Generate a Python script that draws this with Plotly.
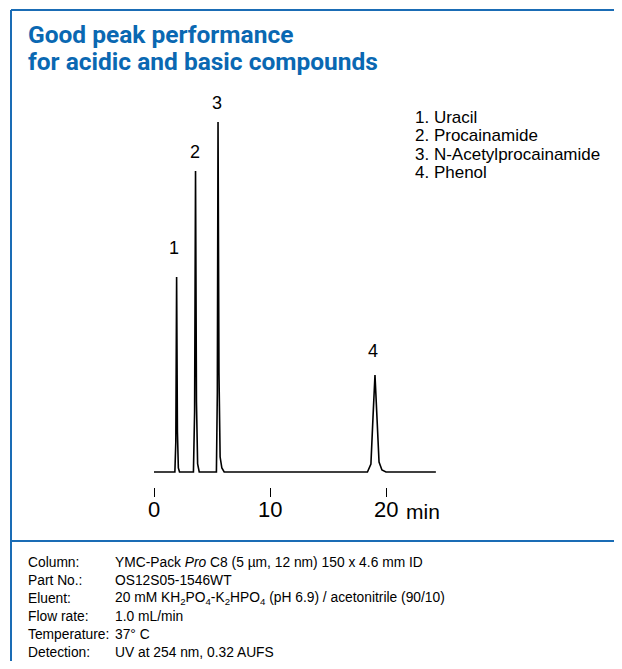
import plotly.graph_objects as go

# page has an 8px body margin: figure is drawn 8px in from top/left
OFF = 8
W, H = 622 - OFF, 669 - 2 * OFF

# ---- data ----
trace_time = [0.0, 1.80, 1.88, 1.95, 2.02, 2.10, 2.20,
              3.40, 3.50, 3.58, 3.66, 3.76, 3.90,
              5.38, 5.46, 5.52, 5.60, 5.70, 5.85, 6.05,
              18.40, 18.70, 18.88, 19.05, 19.22, 19.40, 19.65, 20.0, 24.3]
trace_signal = [0, 0, 30, 195, 40, 4, 0,
                0, 60, 301, 70, 8, 0,
                0, 80, 350, 100, 15, 4, 0,
                0, 8, 55, 97, 55, 10, 2, 0, 0]

peak_numbers = ["1", "2", "3", "4"]
peak_times = [1.95, 3.58, 5.52, 19.05]
peak_heights = [195, 301, 350, 97]
compound_names = ["Uracil", "Procainamide", "N-Acetylprocainamide", "Phenol"]

tick_values = [0, 10, 20]
tick_labels = ["0", "10", "20"]
time_unit = "min"

title_lines = ["Good peak performance", "for acidic and basic compounds"]
condition_labels = ["Column:", "Part No.:", "Eluent:", "Flow rate:", "Temperature:", "Detection:"]
condition_values = [
    "YMC-Pack <i>Pro</i> C8 (5 µm, 12 nm) 150 x 4.6 mm ID",
    "OS12S05-1546WT",
    "20 mM KH<sub>2</sub>PO<sub>4</sub>-K<sub>2</sub>HPO<sub>4</sub> (pH 6.9) / acetonitrile (90/10)",
    "1.0 mL/min",
    "37° C",
    "UV at 254 nm, 0.32 AUFS",
]

# ---- styling ----
BLUE = "#1a6cb5"
TITLE_BLUE = "#0a68b2"
FONT = "Liberation Sans, Arial, sans-serif"
label_yshift = [29, 19, 19, 24]
label_xshift = [-3, -1, -1, -2]


def px(x):
    return (x - OFF) / W


def py(y):
    return 1 - (y - OFF) / H


fig = go.Figure()
fig.add_trace(go.Scatter(x=trace_time, y=trace_signal, mode="lines",
                         line=dict(color="black", width=1.6),
                         hoverinfo="skip", showlegend=False))

scale = 11.6                # px per minute
x0_px = 154 - OFF           # where t = 0 sits
base_px = 472 - OFF         # baseline (from top of figure)
annotations = []

# peak labels
for n, t, h, dy, dx in zip(peak_numbers, peak_times, peak_heights, label_yshift, label_xshift):
    annotations.append(dict(x=t, y=h, xref="x", yref="y", text=n, showarrow=False,
                            xshift=dx, yshift=dy, font=dict(family=FONT, size=18, color="black")))

# tick labels
for v, lab in zip(tick_values, tick_labels):
    annotations.append(dict(x=v, y=py(510), xref="x", yref="paper", text=lab, showarrow=False,
                            xanchor="center", yanchor="middle",
                            font=dict(family=FONT, size=22, color="black")))

# unit label
annotations.append(dict(x=(404 - 154) / scale, y=py(511), xref="x", yref="paper", text=time_unit,
                        showarrow=False, xanchor="left", yanchor="middle",
                        font=dict(family=FONT, size=21, color="black")))

# compound list
for i, (n, name) in enumerate(zip(peak_numbers, compound_names)):
    annotations.append(dict(x=px(413), y=py(117 + i * 18.5), xref="paper", yref="paper",
                            text=f"{n}.\u00a0{name}", showarrow=False, xanchor="left", yanchor="middle",
                            font=dict(family=FONT, size=17, color="black")))

# title
for i, line in enumerate(title_lines):
    annotations.append(dict(x=px(26), y=py(35 + i * 27), xref="paper", yref="paper",
                            text=f"<b>{line}</b>", showarrow=False, xanchor="left", yanchor="middle",
                            font=dict(family="Roboto", size=24.5, color=TITLE_BLUE)))

# conditions
for i, (lab, val) in enumerate(zip(condition_labels, condition_values)):
    y = py(562.5 + i * 18.0)
    annotations.append(dict(x=px(26), y=y, xref="paper", yref="paper", text=lab,
                            showarrow=False, xanchor="left", yanchor="middle",
                            font=dict(family=FONT, size=13.8, color="black")))
    annotations.append(dict(x=px(113), y=y, xref="paper", yref="paper", text=val,
                            showarrow=False, xanchor="left", yanchor="middle",
                            font=dict(family=FONT, size=13.8, color="black")))

shapes = [
    dict(type="line", xref="paper", yref="paper", x0=px(11), x1=1.05, y0=py(10), y1=py(10),
         line=dict(color=BLUE, width=2)),
    dict(type="line", xref="paper", yref="paper", x0=px(11), x1=px(11), y0=py(10), y1=-0.05,
         line=dict(color=BLUE, width=2)),
    dict(type="line", xref="paper", yref="paper", x0=px(11), x1=1.05, y0=py(541), y1=py(541),
         line=dict(color=BLUE, width=2)),
]

fig.update_layout(
    width=W, height=H, margin=dict(l=0, r=0, t=0, b=0),
    paper_bgcolor="white", plot_bgcolor="white",
    xaxis=dict(range=[-x0_px / scale, (W - x0_px) / scale], domain=[0, 1],
               showgrid=False, zeroline=False, showline=False,
               tickvals=tick_values, ticks="outside", showticklabels=False,
               ticklen=9, tickwidth=1.3, tickcolor="black",
               anchor="free", position=py(487)),
    yaxis=dict(range=[-(H - base_px), base_px], domain=[0, 1], visible=False),
    annotations=annotations, shapes=shapes, showlegend=False,
)

fig.write_html("out.html")
